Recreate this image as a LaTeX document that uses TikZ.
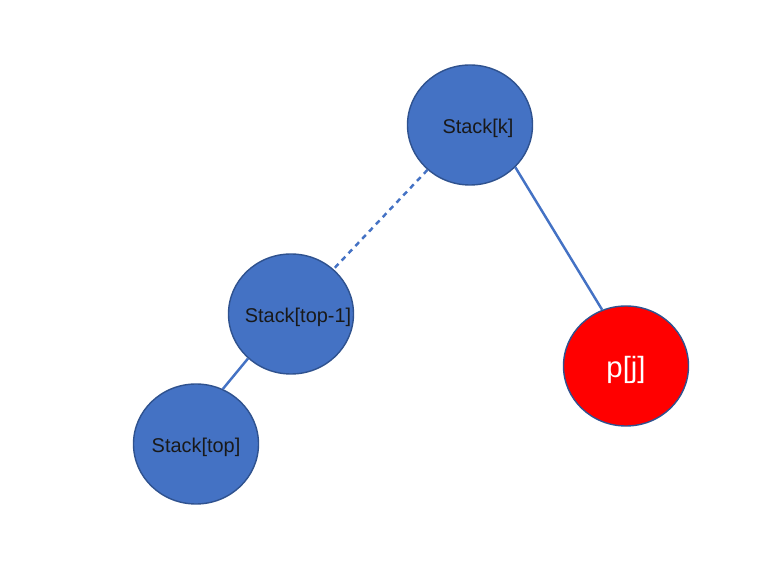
\documentclass[tikz,border=0pt]{standalone}
\usepackage{fontspec}
\setmainfont{Liberation Sans}
\usetikzlibrary{shapes.geometric}
\definecolor{nodeblue}{HTML}{4472C4}
\definecolor{nodeedge}{HTML}{2F528F}
\newcommand{\stacklbl}[2][0cm]{\makebox[0pt]{\smash{\raisebox{\dimexpr-0.26em-0.11cm\relax}{\hspace*{#1}#2}}}}
\begin{document}
\begin{tikzpicture}[x=0.03cm, y=-0.03cm, line join=round,
	stacknode/.style={ellipse, draw=nodeedge, line width=1.2pt, fill=nodeblue, inner sep=0pt,
		minimum width=3.75cm, minimum height=3.6cm, font=\fontsize{17}{20}\selectfont, text=black!90},
	newnode/.style={stacknode, fill=red, text=white, font=\fontsize{25}{30}\selectfont},
	link/.style={draw=nodeblue, line width=2.1pt}]
	\useasboundingbox (0,0) rectangle (783,573);
	\node[stacknode] (k) at (470,125) {\stacklbl[0.48cm]{Stack[k]}};
	\node[stacknode] (t1) at (291,314) {\stacklbl[0.42cm]{Stack[top-1]}};
	\node[stacknode] (t0) at (196,444) {\stacklbl{Stack[top]}};
	\node[newnode] (p) at (626,366) {\stacklbl{p[j]}};
	% stack links
	\draw[link, dash pattern=on 4.5pt off 4pt] (k) -- (t1);
	\draw[link] (t1.226) -- (t0.64);
	\draw[link] (k.-43) -- (p.113);
\end{tikzpicture}
\end{document}
